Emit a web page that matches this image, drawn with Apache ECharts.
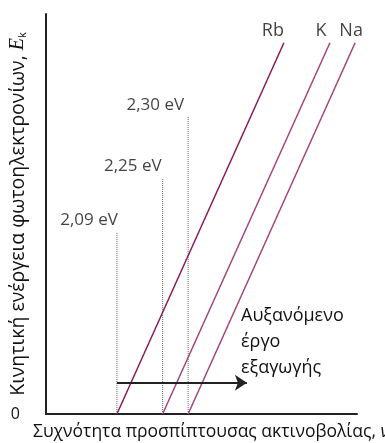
<!DOCTYPE html>
<html>
<head>
<meta charset="utf-8">
<script src="https://cdn.jsdelivr.net/npm/echarts@6/dist/echarts.min.js"></script>
<style>html,body{margin:0;padding:0;background:#fff}#c{width:385px;height:443px}</style>
</head>
<body>
<div id="c"></div>
<script>
// ---- data (arbitrary units) ----
const metals = ['Rb', 'K', 'Na'];
const thresholdFreq = [2.28, 3.75, 4.57];   // ν where Ek = 0
const topFreq = [7.65, 9.13, 9.94];         // ν at upper end of each line
const topEk = [9.28, 9.28, 9.28];           // Ek at upper end of each line
const workFunctionLabels = ['2,09 eV', '2,25 eV', '2,30 eV'];
const markerHeights = [4.55, 5.9, 7.43];    // height of dotted guide lines
const arrowStart = [2.28, 0.78];
const arrowEnd = [6.46, 0.78];
const arrowText = ['Αυξανόμενο', 'έργο', 'εξαγωγής'];
const xAxisTitle = 'Συχνότητα προσπίπτουσας ακτινοβολίας, ';
const yAxisTitle = 'Κινητική ενέργεια φωτοηλεκτρονίων, ';

// ---- styling ----
const FONT = 'Open Sans';
const TXT = '#111';
const lineColors = ['#8a1a5a', '#a2447e', '#a2447e'];
const metalLabelOffsets = [[-11, 0], [-9, 0], [-4, 0]];
const wfLabelOffsets = [[1, 0], [-1, 0], [-4, 0]];

const series = [];
// dotted guide lines
thresholdFreq.forEach((x, i) => {
  series.push({
    type: 'line', symbol: 'none', silent: true, z: 1,
    data: [[x, 0], [x, markerHeights[i]]],
    lineStyle: { color: '#666', width: 1, type: [1, 1] }
  });
});
// Ek vs frequency lines
metals.forEach((m, i) => {
  series.push({
    type: 'line', symbol: 'none', z: 3, name: m,
    data: [[thresholdFreq[i], 0], [topFreq[i], topEk[i]]],
    lineStyle: { color: lineColors[i], width: 1.5 }
  });
});
// metal labels
series.push({
  type: 'scatter', symbolSize: 0, z: 5,
  data: metals.map((m, i) => ({
    value: [topFreq[i], topEk[i]], name: m,
    label: { offset: metalLabelOffsets[i] }
  })),
  label: { show: true, position: 'top', distance: 3, formatter: p => p.name,
    fontFamily: FONT, fontSize: 18, color: TXT }
});
// work function labels
series.push({
  type: 'scatter', symbolSize: 0, z: 5,
  data: workFunctionLabels.map((t, i) => ({
    value: [thresholdFreq[i], markerHeights[i]], name: t,
    label: { offset: wfLabelOffsets[i] }
  })),
  label: { show: true, position: 'top', distance: 3, align: 'right', formatter: p => p.name,
    fontFamily: FONT, fontSize: 17, color: TXT }
});
// arrow
series.push({
  type: 'line', data: [], z: 6,
  markLine: {
    silent: true, symbol: ['none', 'arrow'], symbolSize: 12,
    label: { show: false },
    lineStyle: { color: '#222', width: 2, type: 'solid' },
    data: [[{ coord: arrowStart }, { coord: arrowEnd }]]
  }
});

const chart = echarts.init(document.getElementById('c'), null, { renderer: 'canvas' });
chart.setOption({
  animation: false,
  backgroundColor: '#fff',
  grid: { left: 46, right: 28, top: 14, bottom: 29, containLabel: false, outerBoundsMode: 'none' },
  xAxis: {
    type: 'value', min: 0, max: 10,
    axisLine: { show: true, lineStyle: { color: '#222', width: 2 } },
    axisTick: { show: false }, axisLabel: { show: false }, splitLine: { show: false },
    name: xAxisTitle + '{i|ν}',
    nameLocation: 'start', nameGap: 13, nameMoveOverlap: false,
    nameTextStyle: {
      align: 'left', verticalAlign: 'top', padding: [9, 0, 0, 0],
      fontFamily: FONT, fontSize: 17.5, color: TXT,
      rich: { i: { fontStyle: 'italic', fontFamily: FONT, fontSize: 17.5, color: TXT } }
    }
  },
  yAxis: {
    type: 'value', min: 0, max: 10, interval: 10,
    axisLine: { show: true, lineStyle: { color: '#222', width: 2 } },
    axisTick: { show: false }, splitLine: { show: false },
    axisLabel: { formatter: v => (v === 0 ? '0' : ''), margin: 26,
      fontFamily: FONT, fontSize: 16, color: TXT },
    name: yAxisTitle + '{i|E}{s|k}',
    nameLocation: 'middle', nameGap: 18, nameRotate: 90, nameMoveOverlap: false,
    nameTextStyle: {
      fontFamily: FONT, fontSize: 19.5, color: TXT,
      rich: {
        i: { fontStyle: 'italic', fontFamily: 'Liberation Serif', fontSize: 20, color: TXT },
        s: { fontFamily: FONT, fontSize: 11, color: TXT, padding: [9, 0, 0, 0] }
      }
    }
  },
  graphic: [{
    type: 'text', left: 241, top: 303, silent: true,
    style: { text: arrowText.join('\n'), font: '18px "Open Sans"', fill: TXT, lineHeight: 26 }
  }],
  series: series
});
</script>
</body>
</html>
